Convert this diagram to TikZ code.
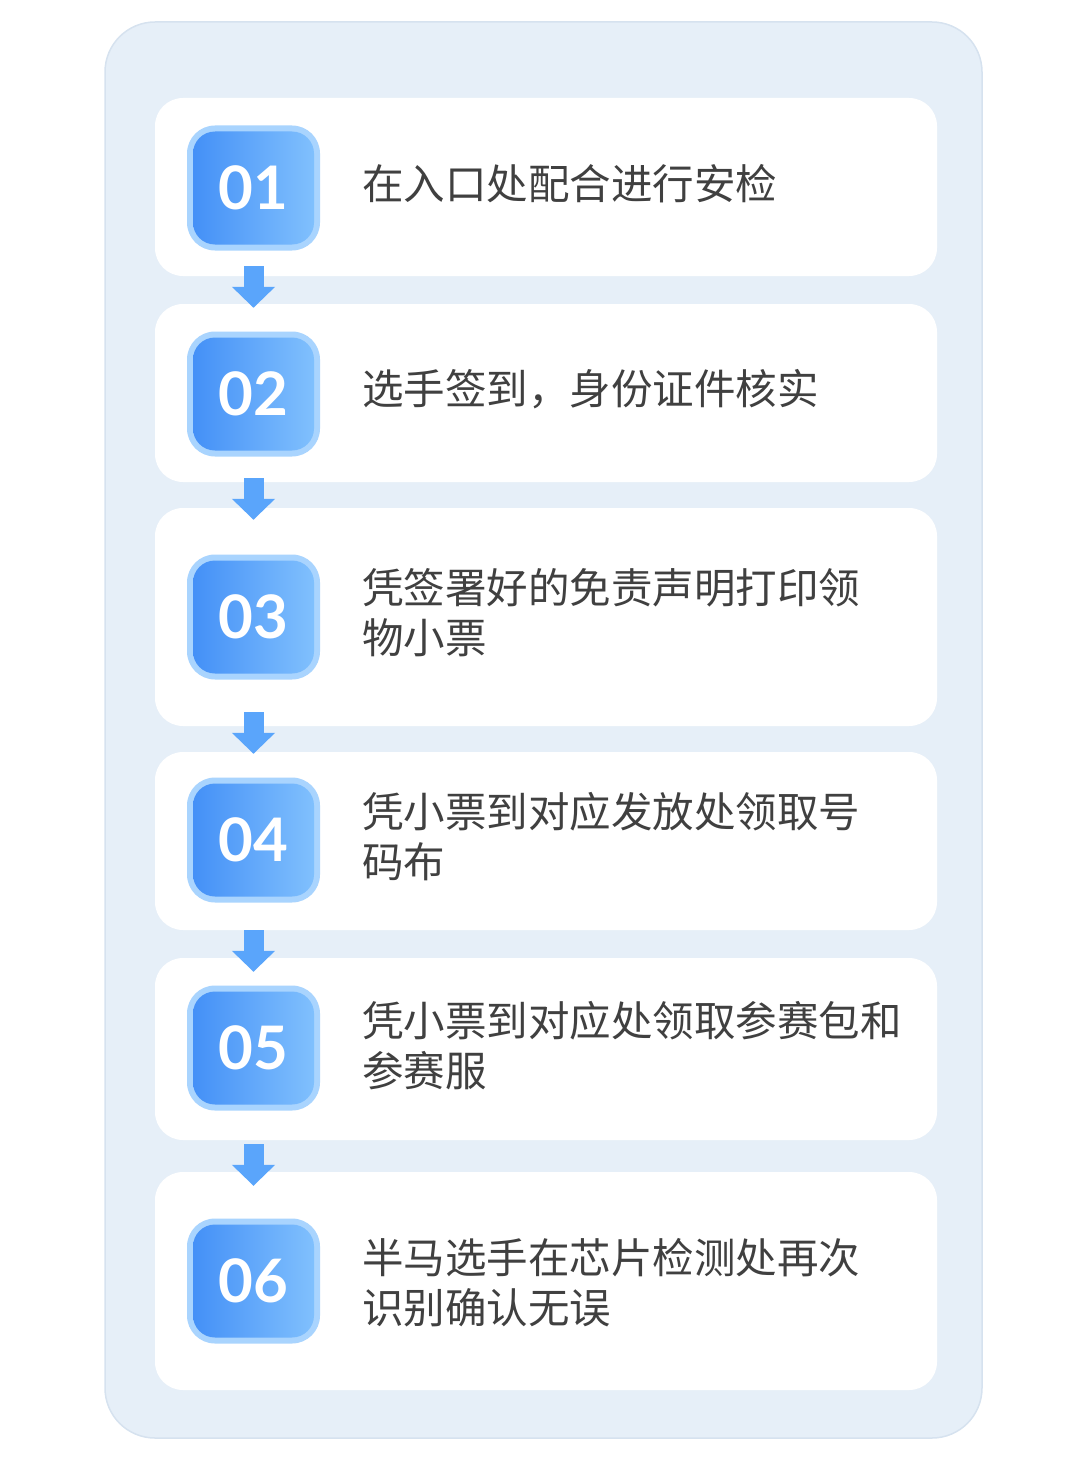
\documentclass[tikz,border=0pt]{standalone}
\usepackage{fontspec}
\newfontfamily\cjk{Noto Sans CJK SC}
\newfontfamily\numfont{Lato}
\usetikzlibrary{arrows.meta,calc}
\definecolor{panelbg}{HTML}{E6EFF8}
\definecolor{panelline}{HTML}{D6E2EF}
\definecolor{ringblue}{HTML}{A9D4FE}
\definecolor{badgeL}{HTML}{4490F7}
\definecolor{badgeR}{HTML}{80C0FD}
\definecolor{badgetop}{HTML}{3F7FD8}
\definecolor{arrowblue}{HTML}{5AA5FB}
\definecolor{txtgray}{HTML}{404040}
\tikzset{
  card/.style={fill=white, rounded corners=28pt, minimum width=782pt, inner sep=0pt},
  ring/.style={fill=ringblue, rounded corners=28pt, minimum width=133pt, minimum height=125pt, inner sep=0pt},
  badge/.style={left color=badgeL, right color=badgeR, rounded corners=22pt, minimum width=121pt, minimum height=113pt, inner sep=0pt, text=white, font=\numfont\bfseries\fontsize{60}{62}\selectfont},
  steptext/.style={anchor=west, align=left, text=txtgray, inner sep=0pt, font=\cjk\fontsize{41.5}{50}\selectfont},
  flowarrow/.style={draw=arrowblue, line width=20pt, -{Triangle[width=42pt,length=21pt]}}
}
\begin{document}
\begin{tikzpicture}[x=1pt,y=-1pt]
\useasboundingbox (0,0) rectangle (1080,1461);
% outer panel
\node[fill=panelbg, draw=panelline, line width=1.5pt, rounded corners=50pt, minimum width=877pt, minimum height=1416pt, inner sep=0pt] (panel) at (543.5,730) {};
% cards
\node[card, minimum height=178pt] (c1) at (546,187) {};
\node[card, minimum height=178pt] (c2) at (546,393) {};
\node[card, minimum height=218pt] (c3) at (546,617) {};
\node[card, minimum height=178pt] (c4) at (546,841) {};
\node[card, minimum height=182pt] (c5) at (546,1049) {};
\node[card, minimum height=218pt] (c6) at (546,1281) {};
% badges
\foreach \i/\y in {1/188,2/394,3/617,4/840,5/1048,6/1281}{
  \node[ring] (r\i) at (253.5,\y) {};
  \node[badge] (b\i) at (253.5,\y) {0\i};
}
% texts
\node[steptext] (t1) at (362,184) {在入口处配合进行安检};
\node[steptext] (t2) at (362,389) {选手签到，身份证件核实};
\node[steptext] (t3) at (362,613) {凭签署好的免责声明打印领\\物小票};
\node[steptext] (t4) at (362,837) {凭小票到对应发放处领取号\\码布};
\node[steptext] (t5) at (362,1046) {凭小票到对应处领取参赛包和\\参赛服};
\node[steptext] (t6) at (362,1283) {半马选手在芯片检测处再次\\识别确认无误};
% arrows
\draw[flowarrow] ([yshift=10pt]c1.south -| b1.center) -- ([yshift=-4pt]c2.north -| b1.center);
\draw[flowarrow] ([yshift=4pt]c2.south -| b1.center) -- ([yshift=-12pt]c3.north -| b1.center);
\draw[flowarrow] ([yshift=14pt]c3.south -| b1.center) -- ([yshift=-2pt]c4.north -| b1.center);
\draw[flowarrow] ([yshift=0pt]c4.south -| b1.center) -- ([yshift=-14pt]c5.north -| b1.center);
\draw[flowarrow] ([yshift=-4pt]c5.south -| b1.center) -- ([yshift=-14pt]c6.north -| b1.center);
\end{tikzpicture}
\end{document}
